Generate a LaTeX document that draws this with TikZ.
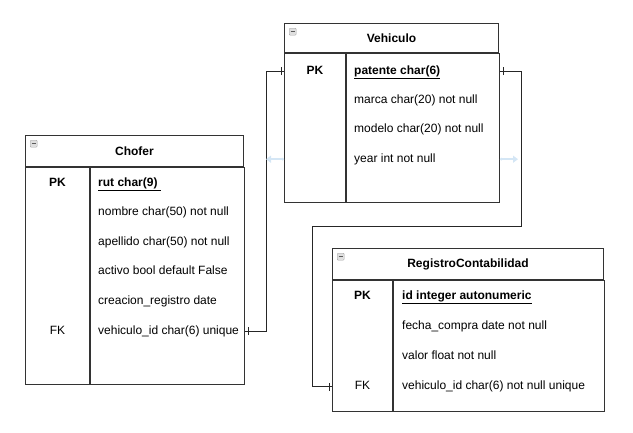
\documentclass[tikz,border=0pt]{standalone}
\usepackage{fontspec}
\setmainfont{Liberation Sans}
\usetikzlibrary{positioning}
\usetikzlibrary{arrows.meta}
\usetikzlibrary{decorations.markings}

\definecolor{borde}{HTML}{333333}
\definecolor{celeste}{HTML}{D4E6F5}

\begin{document}
\begin{tikzpicture}[x=1pt,y=-1pt,
    every node/.style={font=\fontsize{12pt}{14pt}\selectfont},
    cabecera/.style={draw=borde, line width=1pt, fill=white, anchor=north west, font=\fontsize{12pt}{14pt}\selectfont\bfseries},
    columna/.style={draw=borde, line width=1pt, anchor=north west, inner sep=0pt},
    campo/.style={anchor=west, inner sep=0pt, text height=9pt, text depth=3pt},
    clave/.style={inner sep=0pt, text height=9pt, text depth=3pt},
    icono/.style={draw=gray!70, fill=gray!25, rounded corners=1pt, minimum size=7pt, inner sep=0pt},
    rel/.style={draw=black!85, line width=1pt,
        postaction={decorate, decoration={markings,
            mark=at position 3pt with {\draw[black!85, line width=1pt] (0,-4pt) -- (0,4pt);},
            mark=at position -3pt with {\draw[black!85, line width=1pt] (0,-4pt) -- (0,4pt);}}}},
    fantasma/.style={draw=celeste, line width=2pt, {Circle[length=2.5pt]}-{Triangle[length=5pt,width=7pt]}}]
        % \draw[help lines] (0,0) grid (633,432);
    \useasboundingbox (0,0) rectangle (633,432);

    % Chofer
    \node[cabecera, minimum width=218pt, minimum height=31pt]    (chofer)   at (25,135) {Chofer};
    \node[icono, below right=5pt and 5pt of chofer.north west]   (chofer_i) {};
    \draw[borde!80, line width=0.8pt] (chofer_i.west) ++(1.5pt,0) -- ++(4pt,0);
    \node[columna, minimum width=64pt, minimum height=217pt]     (chofer_k) at (chofer.south west) {};
    \node[columna, minimum width=154pt, minimum height=217pt]    (chofer_v) at (chofer_k.north east) {};

    \node[campo, below right=16pt and 8pt of chofer_v.north west, anchor=west] (ch_rut)  {\bfseries\underline{rut char(9)~}};
    \node[campo, below=29.6pt of ch_rut.west, anchor=west]        (ch_nom)  {nombre char(50) not null};
    \node[campo, below=29.6pt of ch_nom.west, anchor=west]        (ch_ape)  {apellido char(50) not null};
    \node[campo, below=29.6pt of ch_ape.west, anchor=west]        (ch_act)  {activo bool default False};
    \node[campo, below=29.6pt of ch_act.west, anchor=west]        (ch_cre)  {creacion\_registro date};
    \node[campo, below=29.6pt of ch_cre.west, anchor=west]        (ch_vid)  {vehiculo\_id char(6) unique};
    \node[clave, font=\fontsize{12pt}{14pt}\selectfont\bfseries] (ch_pk) at (chofer_k |- ch_rut) {PK};
    \node[clave]                                                  (ch_fk) at (chofer_k |- ch_vid) {FK};

    % Vehiculo
    \node[cabecera, minimum width=214pt, minimum height=29pt]    (vehiculo)   at (284,23) {Vehiculo};
    \node[icono, below right=5pt and 5pt of vehiculo.north west] (vehiculo_i) {};
    \draw[borde!80, line width=0.8pt] (vehiculo_i.west) ++(1.5pt,0) -- ++(4pt,0);
    \node[columna, minimum width=61pt, minimum height=149pt]     (vehiculo_k) at (vehiculo.south west) {};
    \node[columna, minimum width=153pt, minimum height=149pt]    (vehiculo_v) at (vehiculo_k.north east) {};

    \node[campo, below right=18pt and 8pt of vehiculo_v.north west, anchor=west] (ve_pat)  {\bfseries\underline{patente char(6)}};
    \node[campo, below=29.4pt of ve_pat.west, anchor=west]          (ve_mar)  {marca char(20) not null};
    \node[campo, below=29.4pt of ve_mar.west, anchor=west]          (ve_mod)  {modelo char(20) not null};
    \node[campo, below=29.4pt of ve_mod.west, anchor=west]          (ve_yea)  {year int not null};
    \node[clave, font=\fontsize{12pt}{14pt}\selectfont\bfseries]   (ve_pk) at (vehiculo_k |- ve_pat) {PK};

    % RegistroContabilidad
    \node[cabecera, minimum width=271pt, minimum height=31pt]    (registro)   at (332,248) {RegistroContabilidad};
    \node[icono, below right=5pt and 5pt of registro.north west] (registro_i) {};
    \draw[borde!80, line width=0.8pt] (registro_i.west) ++(1.5pt,0) -- ++(4pt,0);
    \node[columna, minimum width=60pt, minimum height=131pt]     (registro_k) at (registro.south west) {};
    \node[columna, minimum width=211pt, minimum height=131pt]    (registro_v) at (registro_k.north east) {};

    \node[campo, below right=16pt and 9pt of registro_v.north west, anchor=west] (re_id)  {\bfseries\underline{id integer autonumeric}};
    \node[campo, below=30.3pt of re_id.west, anchor=west]           (re_fec) {fecha\_compra date not null};
    \node[campo, below=30.3pt of re_fec.west, anchor=west]          (re_val) {valor float not null};
    \node[campo, below=30.3pt of re_val.west, anchor=west]          (re_vid) {vehiculo\_id char(6) not null unique};
    \node[clave, font=\fontsize{12pt}{14pt}\selectfont\bfseries]   (re_pk) at (registro_k |- re_id) {PK};
    \node[clave]                                                    (re_fk) at (registro_k |- re_vid) {FK};

    % relaciones
    \coordinate (codo) at (312,226);
    \draw[rel] (chofer_v.east |- ch_vid) -- ++(21,0) |- (vehiculo_k.west |- ve_pat);
    \draw[rel] (vehiculo_v.east |- ve_pat) -- ++(21,0) |- (codo) |- (registro_k.west |- re_vid);

    % flechas tenues
    \draw[fantasma] (vehiculo_k.west |- ve_yea) -- ++(-18,0);
    \draw[fantasma] (vehiculo_v.east |- ve_yea) -- ++(18,0);
\end{tikzpicture}
\end{document}
